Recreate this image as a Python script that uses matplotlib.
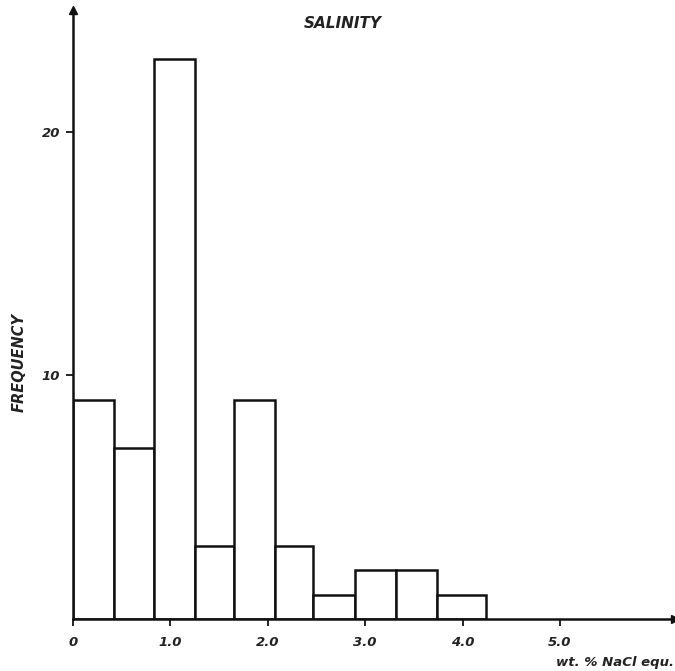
import numpy as np
import matplotlib
matplotlib.use("Agg")
import matplotlib.pyplot as plt

# salinity histogram (wt.% NaCl equ.)
bin_edges = [0, 0.42, 0.83, 1.25, 1.66, 2.08, 2.47, 2.90, 3.32, 3.74, 4.24]
counts = [9, 7, 23, 3, 9, 3, 1, 2, 2, 1]
x_ticks = [0, 1, 2, 3, 4, 5]
x_tick_labels = ["0", "1.0", "2.0", "3.0", "4.0", "5.0"]
y_ticks = [10, 20]

fig = plt.figure(figsize=(6.75, 6.71), dpi=100)
ax = fig.add_axes([0.1077, 0.0775, 0.8923, 0.9076])

edges = np.array(bin_edges)
widths = np.diff(edges)
ax.bar(edges[:-1], counts, width=widths, align="edge", facecolor="white",
       edgecolor="#111111", linewidth=1.8)

ax.set_xlim(0, 6.18)
ax.set_ylim(0, 25.0)

for s in ["top", "right"]:
    ax.spines[s].set_visible(False)
for s in ["left", "bottom"]:
    ax.spines[s].set_linewidth(1.8)
    ax.spines[s].set_color("#111111")

# arrow heads at axis ends
ax.plot(1, 0, ">", color="#111111", markersize=6, transform=ax.transAxes, clip_on=False)
ax.plot(0, 1, "^", color="#111111", markersize=6, transform=ax.transAxes, clip_on=False)

fnt = dict(fontweight="bold", fontstyle="italic", color="#222222")
ax.set_xticks(x_ticks)
ax.set_xticklabels(x_tick_labels, **fnt, fontsize=9.5)
ax.set_yticks(y_ticks)
ax.set_yticklabels([str(v) for v in y_ticks], **fnt, fontsize=9.5)
ax.tick_params(axis="both", direction="out", length=5, width=1.3, color="#111111", pad=4)
ax.tick_params(axis="x", pad=7)

fig.text(0.508, 0.965, "SALINITY", ha="center", va="center", fontsize=11, **fnt)
fig.text(0.028, 0.46, "FREQUENCY", ha="center", va="center", rotation=90, fontsize=10.5, **fnt)
fig.text(0.998, 0.012, "wt. % NaCl equ.", ha="right", va="center", fontsize=9.5, **fnt)

fig.savefig("out.png", dpi=100, facecolor="white")
